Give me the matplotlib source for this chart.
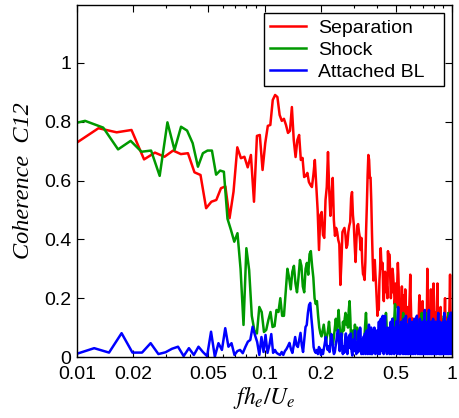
import numpy as np
import matplotlib
matplotlib.use("Agg")
import matplotlib.pyplot as plt
from matplotlib.ticker import FixedLocator, NullFormatter, LogLocator

# ---- frequency grids (uniform spectral resolution of each signal) ----
DF_SEP, K0_SEP = 0.003255, 3
DF_SHK, K0_SHK = 0.00276, 3
DF_ABL, K0_ABL = 0.00247, 4

separation = [
    0.725, 0.778, 0.764, 0.772, 0.672, 0.695, 0.681, 0.702, 0.690, 0.693, 0.628, 0.619, 0.506,
    0.528, 0.534, 0.574, 0.580, 0.472, 0.562, 0.713, 0.676, 0.681, 0.645, 0.687, 0.528, 0.752, 0.755,
    0.636, 0.727, 0.786, 0.789, 0.874, 0.891, 0.884, 0.823, 0.803, 0.810, 0.789, 0.762, 0.769, 0.850,
    0.738, 0.680, 0.738, 0.755, 0.670, 0.677, 0.612, 0.616, 0.626, 0.595, 0.585, 0.578, 0.619, 0.670, 0.585,
    0.50, 0.364, 0.483, 0.493, 0.415, 0.405, 0.534, 0.578, 0.697, 0.568, 0.480, 0.551, 0.609, 0.466,
    0.412, 0.439, 0.425, 0.398, 0.384, 0.245, 0.323, 0.425, 0.432, 0.439, 0.415, 0.371, 0.381, 0.425,
    0.446, 0.459, 0.541, 0.561, 0.483, 0.449, 0.381, 0.323, 0.398, 0.446, 0.452, 0.425, 0.408, 0.364,
    0.405, 0.323, 0.282, 0.276, 0.262, 0.323, 0.432, 0.517, 0.619, 0.687, 0.670, 0.609,
    0.61, 0.53, 0.42, 0.33, 0.26, 0.30, 0.33,
    0.28, 0.24, 0.19, 0.14, 0.20, 0.16, 0.26, 0.30, 0.37, 0.32,
    0.30, 0.32, 0.22, 0.19, 0.25, 0.29, 0.27, 0.22, 0.24, 0.20,
    0.36, 0.30, 0.35, 0.33, 0.26, 0.20, 0.24, 0.22, 0.30, 0.28,
    0.25, 0.22, 0.18, 0.20, 0.25, 0.22, 0.17, 0.26, 0.32, 0.28,
    0.22, 0.17, 0.12, 0.14, 0.10, 0.16, 0.24, 0.19, 0.21, 0.15,
    0.17, 0.20, 0.14, 0.23, 0.18, 0.15, 0.12, 0.17, 0.13, 0.10,
    0.16, 0.12, 0.18, 0.22, 0.28, 0.20, 0.15, 0.09, 0.13, 0.11,
    0.08, 0.13, 0.06, 0.10, 0.07, 0.11, 0.05, 0.09, 0.12, 0.10,
    0.14, 0.09, 0.13, 0.08, 0.12, 0.18, 0.21, 0.15, 0.10, 0.12,
    0.07, 0.11, 0.09, 0.16, 0.19, 0.13, 0.08, 0.05, 0.09, 0.07,
    0.06, 0.10, 0.14, 0.09, 0.12, 0.08, 0.20, 0.30, 0.22, 0.14,
    0.10, 0.16, 0.12, 0.08, 0.15, 0.11, 0.18, 0.23, 0.16, 0.10,
    0.06, 0.09, 0.07, 0.12, 0.18, 0.25, 0.20, 0.13, 0.08, 0.12,
    0.15, 0.10, 0.07, 0.11, 0.09, 0.14, 0.19, 0.25, 0.17, 0.12,
    0.10, 0.13, 0.08, 0.11, 0.06, 0.09, 0.14, 0.17, 0.12, 0.09,
    0.13, 0.07, 0.05, 0.08, 0.06, 0.10, 0.04, 0.07, 0.05, 0.09,
    0.12, 0.17, 0.20, 0.14, 0.09, 0.12, 0.08, 0.06, 0.10, 0.07,
    0.13, 0.09, 0.11, 0.14, 0.08, 0.05, 0.09, 0.12, 0.18, 0.23,
    0.28, 0.20, 0.12, 0.08, 0.05, 0.10, 0.07, 0.09,
]

shock = [
    0.785, 0.803, 0.780, 0.706, 0.735, 0.698, 0.702, 0.616, 0.798, 0.704, 0.783, 0.770, 0.727,
    0.647, 0.693, 0.702, 0.702, 0.620, 0.634,
    0.63, 0.47, 0.432, 0.392, 0.421, 0.30, 0.109, 0.37, 0.296, 0.14, 0.09, 0.08, 0.17, 0.153,
    0.085, 0.092, 0.126, 0.153, 0.102, 0.105, 0.16, 0.153, 0.20, 0.14, 0.14, 0.22,
    0.30, 0.27, 0.23, 0.29, 0.31, 0.25, 0.22, 0.27, 0.33, 0.31,
    0.24, 0.22, 0.30, 0.32, 0.28, 0.35, 0.36, 0.31, 0.27, 0.20,
    0.18, 0.19, 0.14, 0.10, 0.08, 0.07, 0.09, 0.11, 0.08, 0.05,
    0.07, 0.09, 0.12, 0.08, 0.05, 0.06, 0.04, 0.07, 0.10, 0.13,
    0.09, 0.12, 0.16, 0.11, 0.07, 0.05, 0.08, 0.12, 0.09, 0.13,
    0.15, 0.11, 0.14, 0.10, 0.16, 0.19, 0.13, 0.04, 0.06, 0.09,
    0.05, 0.08, 0.11, 0.08, 0.06, 0.10, 0.07, 0.03, 0.05, 0.02,
    0.04, 0.06, 0.03,
    0.05, 0.02, 0.04, 0.08, 0.12, 0.15, 0.10, 0.06, 0.03, 0.05,
    0.07, 0.04, 0.02, 0.03, 0.01, 0.04, 0.06, 0.03, 0.05, 0.02,
    0.04, 0.07, 0.05, 0.03, 0.06, 0.08, 0.05, 0.09, 0.07, 0.04,
    0.06, 0.03, 0.05, 0.08, 0.06, 0.09, 0.07, 0.04, 0.08, 0.10,
    0.15, 0.12, 0.07, 0.04, 0.02, 0.05, 0.03, 0.06, 0.04, 0.07,
    0.05, 0.08, 0.06, 0.10, 0.13, 0.09, 0.07, 0.12, 0.15, 0.18,
    0.14, 0.10, 0.06, 0.09, 0.05, 0.03, 0.07, 0.11, 0.08, 0.10,
    0.07, 0.05, 0.09, 0.12, 0.08, 0.06, 0.10, 0.13, 0.15, 0.11,
    0.08, 0.13, 0.09, 0.06, 0.10, 0.07, 0.04, 0.08, 0.11, 0.09,
    0.06, 0.03, 0.07, 0.05, 0.09, 0.04, 0.06, 0.08, 0.05, 0.03,
    0.06, 0.04, 0.07, 0.09, 0.05, 0.03, 0.08, 0.06, 0.04, 0.07,
    0.10, 0.08, 0.05, 0.09, 0.06, 0.04, 0.07, 0.05, 0.08, 0.06,
    0.09, 0.07, 0.11, 0.08, 0.06, 0.10, 0.13, 0.09, 0.12, 0.15,
    0.11, 0.07, 0.05, 0.08, 0.06, 0.04, 0.07, 0.10, 0.06, 0.08,
    0.11, 0.14, 0.15, 0.10, 0.07, 0.05, 0.08, 0.06, 0.04, 0.07,
    0.09, 0.06, 0.08, 0.11, 0.07, 0.05, 0.09, 0.12, 0.08, 0.06,
    0.04, 0.07, 0.05, 0.08, 0.10, 0.07, 0.05, 0.09, 0.06, 0.04,
    0.07, 0.09, 0.06, 0.10, 0.08, 0.05, 0.07, 0.04, 0.06, 0.08,
    0.10, 0.07, 0.09, 0.12, 0.08, 0.05, 0.07, 0.10, 0.06, 0.04,
    0.08, 0.06, 0.09, 0.07, 0.05, 0.03, 0.06, 0.08, 0.05, 0.07,
    0.09, 0.06, 0.04, 0.07, 0.10, 0.08, 0.11, 0.14, 0.09, 0.06,
    0.05, 0.08, 0.06, 0.04, 0.07, 0.09, 0.06, 0.08, 0.05, 0.07,
    0.10, 0.08, 0.06, 0.09, 0.12, 0.15, 0.11, 0.07, 0.05, 0.08,
    0.06, 0.04, 0.07, 0.09, 0.06, 0.08, 0.11, 0.07, 0.05, 0.08,
    0.06, 0.09,
]

attached_bl = [
    0.010, 0.030, 0.015, 0.081, 0.015, 0.015, 0.047, 0.010, 0.016, 0.028,
    0.035, 0.003, 0.030, 0.007, 0.035, 0.017, 0.003, 0.086, 0.001, 0.047,
    0.024, 0.098, 0.035, 0.047, 0.007, 0.020, 0.024, 0.013, 0.034, 0.052,
    0.058, 0.103, 0.075, 0.051, 0.007,
    0.068, 0.017, 0.075, 0.014, 0.040, 0.078, 0.014, 0.024, 0.014, 0.010,
    0.007, 0.017, 0.007, 0.020, 0.027, 0.037, 0.048, 0.027, 0.014, 0.040,
    0.068, 0.040, 0.034, 0.058, 0.082, 0.040, 0.017, 0.058, 0.102, 0.109,
    0.150, 0.177, 0.184, 0.133, 0.092, 0.034, 0.020, 0.014, 0.024, 0.010,
    0.034, 0.027, 0.007, 0.024, 0.010, 0.030, 0.048, 0.068, 0.040, 0.024,
    0.037, 0.017, 0.051, 0.078, 0.058, 0.024, 0.010, 0.017, 0.037, 0.058,
    0.082, 0.092,
    0.05, 0.02, 0.06, 0.08, 0.03, 0.01, 0.035, 0.015, 0.06, 0.08,
    0.04, 0.01, 0.055, 0.07, 0.075, 0.03, 0.08, 0.02, 0.005, 0.04,
    0.06, 0.02, 0.09, 0.05, 0.01, 0.05, 0.015, 0.06, 0.09, 0.02,
    0.10, 0.05, 0.01, 0.03, 0.06, 0.01, 0.07, 0.03, 0.08, 0.01,
    0.06, 0.09, 0.02, 0.01, 0.07, 0.11, 0.04, 0.01, 0.06, 0.10,
    0.05, 0.01, 0.06, 0.09, 0.02, 0.10, 0.06, 0.01, 0.07, 0.02,
    0.09, 0.04, 0.01, 0.08, 0.12, 0.05, 0.01, 0.09, 0.13, 0.04,
    0.02, 0.10, 0.14, 0.06, 0.01, 0.08, 0.12, 0.14, 0.07, 0.02,
    0.08, 0.01, 0.07, 0.10, 0.03, 0.09, 0.02, 0.01, 0.07, 0.10,
    0.12, 0.05, 0.01, 0.09, 0.13, 0.08, 0.02, 0.08, 0.01, 0.07,
    0.10, 0.03, 0.09, 0.12, 0.05, 0.01, 0.10, 0.14, 0.17, 0.08,
    0.02, 0.01, 0.10, 0.04, 0.01, 0.09, 0.12, 0.05, 0.02, 0.10,
    0.04, 0.01, 0.09, 0.13, 0.07, 0.02, 0.08, 0.01, 0.11, 0.14,
    0.06, 0.02, 0.01, 0.08, 0.11, 0.04, 0.01, 0.09, 0.03, 0.10,
    0.13, 0.06, 0.01, 0.10, 0.04, 0.01, 0.08, 0.12, 0.06, 0.02,
    0.01, 0.08, 0.11, 0.03, 0.10, 0.13, 0.06, 0.01, 0.08, 0.02,
    0.09, 0.12, 0.14, 0.07, 0.02, 0.01, 0.09, 0.03, 0.11, 0.05,
    0.01, 0.09, 0.13, 0.07, 0.02, 0.01, 0.08, 0.11, 0.04, 0.01,
    0.08, 0.12, 0.06, 0.01, 0.10, 0.04, 0.01, 0.09, 0.13, 0.16,
    0.08, 0.02, 0.01, 0.09, 0.03, 0.10, 0.05, 0.01, 0.09, 0.12,
    0.05, 0.01, 0.10, 0.14, 0.16, 0.09, 0.03, 0.01, 0.09, 0.04,
    0.11, 0.05, 0.01, 0.09, 0.12, 0.04, 0.01, 0.08, 0.02, 0.10,
    0.13, 0.06, 0.01, 0.08, 0.02, 0.09, 0.11, 0.04, 0.01, 0.08,
    0.12, 0.06, 0.01, 0.10, 0.04, 0.01, 0.09, 0.03, 0.08, 0.11,
    0.14, 0.15, 0.08, 0.02, 0.01, 0.10, 0.04, 0.01, 0.09, 0.12,
    0.05, 0.01, 0.10, 0.04, 0.01, 0.08, 0.11, 0.06, 0.01, 0.08,
    0.02, 0.09, 0.12, 0.05, 0.01, 0.10, 0.13, 0.15, 0.08, 0.02,
    0.01, 0.08, 0.03, 0.09, 0.12, 0.05, 0.01, 0.07, 0.10, 0.02,
    0.09, 0.12, 0.05, 0.01, 0.07, 0.10, 0.13, 0.06, 0.01, 0.08,
    0.11, 0.14, 0.07, 0.02, 0.01, 0.09, 0.12, 0.15, 0.08, 0.03,
    0.01, 0.10, 0.13, 0.15,
]

series_labels = ["Separation", "Shock", "Attached BL"]
series_colors = ["#ff0000", "#009900", "#0000ff"]

xticks = [0.01, 0.02, 0.05, 0.1, 0.2, 0.5, 1]
xticklabels = ["0.01", "0.02", "0.05", "0.1", "0.2", "0.5", "1"]
yticks = [0, 0.2, 0.4, 0.6, 0.8, 1.0]
yticklabels = ["0", "0.2", "0.4", "0.6", "0.8", "1"]

def grid(df, k0, vals):
    return df * (k0 + np.arange(len(vals)))

plt.rcParams["font.family"] = ["Liberation Sans", "DejaVu Sans"]
plt.rcParams["mathtext.fontset"] = "stix"

fig = plt.figure(figsize=(4.6, 4.18), dpi=100)
ax = fig.add_axes([77 / 460, 61 / 418, 375 / 460, 352 / 418])

data = [
    (grid(DF_SEP, K0_SEP, separation), separation),
    (grid(DF_SHK, K0_SHK, shock), shock),
    (grid(DF_ABL, K0_ABL, attached_bl), attached_bl),
]
for (x, y), lab, col in zip(data, series_labels, series_colors):
    ax.plot(x, y, color=col, lw=1.8, label=lab)

ax.set_xscale("log")
ax.set_xlim(0.01, 1)
ax.set_ylim(0, 1.197)
ax.xaxis.set_major_locator(FixedLocator(xticks))
ax.set_xticklabels(xticklabels)
ax.xaxis.set_minor_locator(LogLocator(base=10, subs=np.arange(2, 10)))
ax.xaxis.set_minor_formatter(NullFormatter())
ax.set_yticks(yticks)
ax.set_yticklabels(yticklabels)

ax.tick_params(which="both", direction="in", top=True, right=True, labelsize=14,
               width=0.8, colors="black")
ax.tick_params(axis="x", which="major", length=5, pad=6.5)
ax.tick_params(axis="y", which="major", length=5, pad=4)
ax.tick_params(which="minor", length=2.5)
for s in ax.spines.values():
    s.set_linewidth(1.0)

ax.set_ylabel("Coherence  C12", family=["Liberation Serif"], style="italic",
              fontsize=17.5, labelpad=7)
ax.set_xlabel(r"$fh_e/U_e$", fontsize=17, labelpad=1)

leg = ax.legend(loc="upper right", bbox_to_anchor=(0.4987, 0.0, 0.48, 0.9764),
                mode="expand", borderaxespad=0,
                fancybox=False, edgecolor="black", framealpha=1, fontsize=14,
                handlelength=1.85, handletextpad=0.65, labelspacing=0.22,
                borderpad=0.3)
leg.get_frame().set_linewidth(1.0)

fig.savefig("out.png", dpi=100)
